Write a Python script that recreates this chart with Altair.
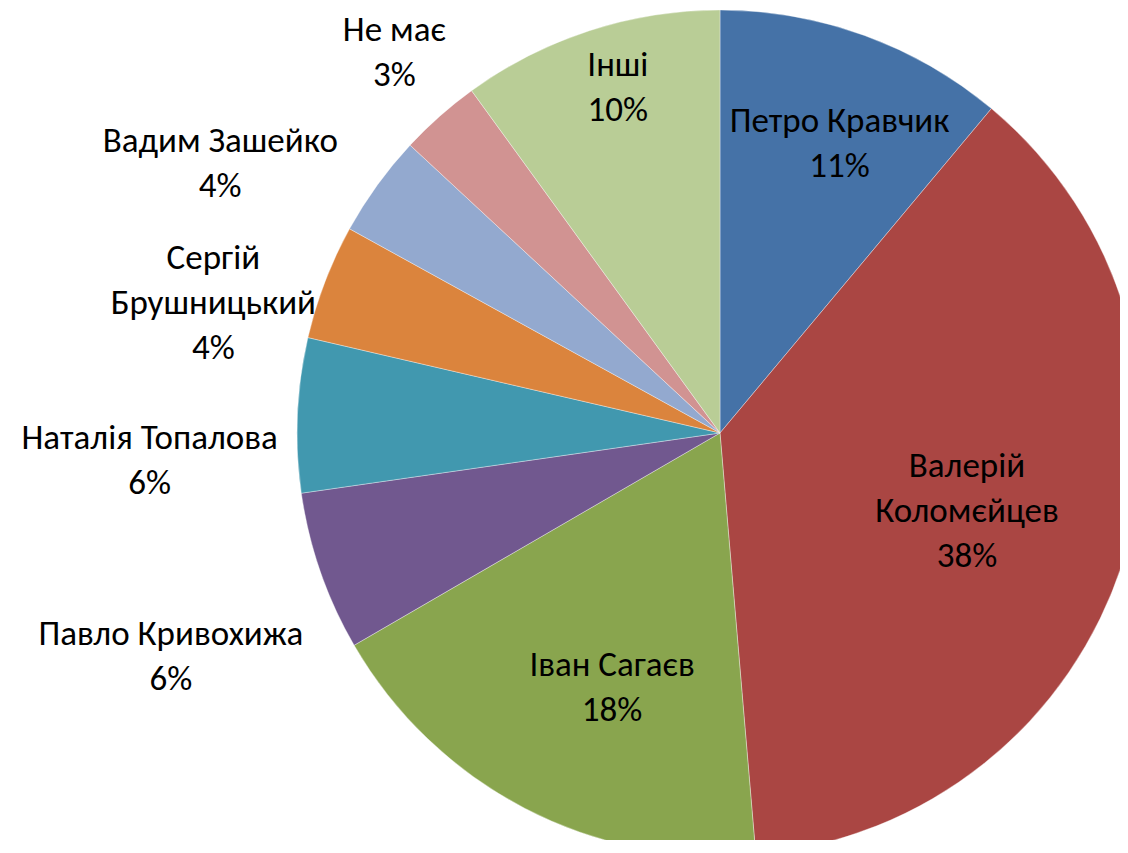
import altair as alt
import pandas as pd

# ---- data ----
names = ["Петро Кравчик", "Валерій\nКоломєйцев", "Іван Сагаєв", "Павло Кривохижа",
         "Наталія Топалова", "Сергій\nБрушницький", "Вадим Зашейко", "Не має", "Інші"]
values = [11.1, 37.6, 18.0, 6.1, 5.9, 4.4, 3.9, 3.1, 10.0]
colors = ["#4572A7", "#AA4643", "#89A54E", "#71588F", "#4198AF",
          "#DB843D", "#93A9CF", "#D19392", "#B9CD96"]

# ---- label layout (placement of each data label) ----
label_radius = [313, 259, 276, 593, 571, 523, 568, 501, 360]
label_shift_deg = [2.5, 0, -4.5, -3, -5.2, -6.6, -7.5, 1.0, 1.5]

LINE_H = 45
FONT = "Carlito, Open Sans"
FONT_SIZE = 35

total = sum(values)
rows = []
cum = 0.0
for i, (n, v) in enumerate(zip(names, values)):
    mid = cum + v / 2
    cum += v
    label = f"{n}\n{round(v / total * 100)}%"
    rows.append({
        "idx": i,
        "name": n,
        "value": v,
        "label": label,
        "nlines": label.count("\n") + 1,
        "label_theta": mid + label_shift_deg[i] / 360 * total,
        "label_r": label_radius[i],
    })
df = pd.DataFrame(rows)

CX, CY, R = 712, 425, 423
theta_scale = alt.Scale(domain=[0, total])

base = alt.Chart(df)

arcs = base.mark_arc(outerRadius=R, stroke="#ffffff", strokeWidth=0.6, strokeOpacity=0.6).encode(
    theta=alt.Theta("value:Q", stack=True, scale=theta_scale),
    color=alt.Color("name:N", scale=alt.Scale(domain=names, range=colors), legend=None),
    order=alt.Order("idx:Q", sort="ascending"),
    x=alt.value(CX),
    y=alt.value(CY),
)

layers = [arcs]
for n in sorted(df["nlines"].unique()):
    layers.append(
        base.transform_filter(alt.datum.nlines == int(n)).mark_text(
            font=FONT, fontSize=FONT_SIZE, lineHeight=LINE_H, lineBreak="\n",
            align="center", baseline="middle", color="#000000",
            dy=-(int(n) - 1) * LINE_H / 2,
        ).encode(
            theta=alt.Theta("label_theta:Q", stack=None, scale=theta_scale),
            radius=alt.Radius("label_r:Q", scale=None),
            text="label:N",
            x=alt.value(CX),
            y=alt.value(CY),
        )
    )

chart = alt.layer(*layers).properties(
    width=1112, height=832, padding=0,
    autosize=alt.AutoSizeParams(type="none"),
).configure_view(stroke=None)

chart.save("out.html", embed_options={"renderer": "svg", "actions": False})
